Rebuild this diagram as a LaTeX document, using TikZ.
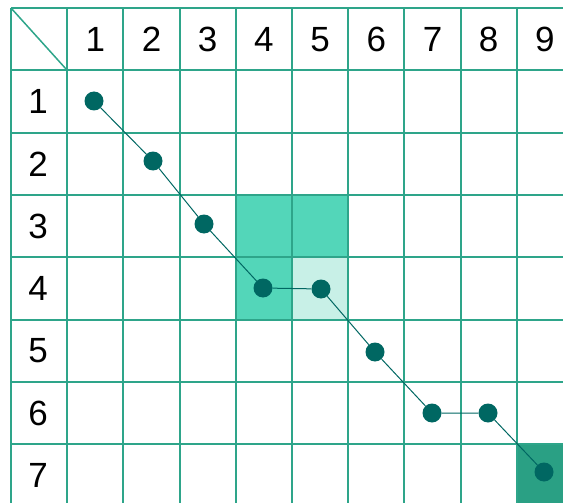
\documentclass[tikz,border=0pt]{standalone}
\usepackage{fontspec}
\setmainfont{Liberation Sans}
\usetikzlibrary{positioning}
\definecolor{pathGrid}{RGB}{46, 165, 138}
\definecolor{pathDot}{RGB}{0, 103, 98}
\definecolor{pathMid}{RGB}{83, 214, 185}
\definecolor{pathLight}{RGB}{200, 240, 231}
\definecolor{pathDark}{RGB}{42, 160, 132}

\begin{document}
\begin{tikzpicture}[
  x=1pt,y=-1pt,
  gridline/.style={draw=pathGrid,line width=2pt},
  num/.style={font=\fontsize{35}{40}\selectfont,inner sep=0pt},
  dot/.style={circle,fill=pathDot,inner sep=0pt,minimum size=19pt},
  link/.style={draw=pathDot,line width=1pt}
]
  \useasboundingbox (0,0) rectangle (563,503);
  \clip (0,0) rectangle (563,503);
  % highlighted cells
  \fill[pathMid] (235.8,194.9) rectangle (348.2,319.5);
  \fill[pathLight] (292,257.2) rectangle (348.2,319.5);
  \fill[pathDark] (516.8,444.1) rectangle (573,506.4);
  % table grid
  \foreach \i in {0,...,10}
    \draw[gridline] ({11+56.2*\i},8) -- ({11+56.2*\i},520);
  \foreach \j in {0,...,8}
    \draw[gridline] (11,{8+62.3*\j}) -- (580,{8+62.3*\j});
  \draw[draw=pathGrid,line width=1.5pt] (11,8) -- (67.2,70.3);
  % headers
  \foreach \c in {1,...,9}
    \node[num] (col\c) at ({11+56.2*\c+28.1},39.5) {\c};
  \foreach \r in {1,...,7}
    \node[num] (row\r) at (38,{8+62.3*\r+31.5}) {\r};
  % path
  \node[dot] (d1) at (94,101) {};
  \node[dot] (d2) at (153,161) {};
  \node[dot] (d3) at (204,224) {};
  \node[dot] (d4) at (263,288) {};
  \node[dot] (d5) at (321,289) {};
  \node[dot] (d6) at (375,352) {};
  \node[dot] (d7) at (432,413) {};
  \node[dot] (d8) at (488,413) {};
  \node[dot] (d9) at (544,472) {};
  \draw[link] (d1) -- (d2) -- (d3) -- (d4) -- (d5) -- (d6) -- (d7) -- (d8) -- (d9);
\end{tikzpicture}
\end{document}
